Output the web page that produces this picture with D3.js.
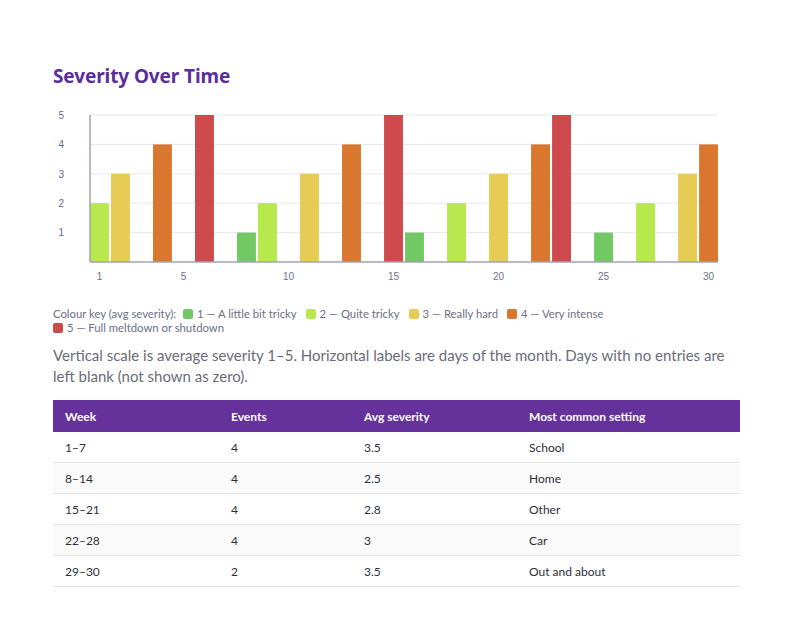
<!DOCTYPE html>
<html>
<head>
<meta charset="utf-8">
<script src="https://cdn.jsdelivr.net/npm/d3@7"></script>
<style>
  body { margin: 0; background: #fff; font-family: "Lato", "Noto Sans", sans-serif; }
  #page { position: relative; width: 792px; height: 630px; }
  #title { position: absolute; left: 53px; top: 63px; margin: 0; font-size: 19px; font-weight: 700; color: #5b2d9c; font-family: "Noto Sans", sans-serif; letter-spacing: -0.1px; }
  #chart { position: absolute; left: 0; top: 100px; }
  #legend { position: absolute; left: 53px; top: 307px; width: 600px; font-size: 11.3px; color: #6c6f85; line-height: 14px; }
  #legend .item { display: inline-block; margin-right: 9px; white-space: nowrap; }
  #legend .sw { display: inline-block; width: 10px; height: 10px; border-radius: 2px; vertical-align: -1px; margin-right: 4px; }
  #note { position: absolute; left: 53px; top: 345px; width: 690px; margin: 0; font-size: 15px; line-height: 21px; color: #6b6b78; }
  #table { position: absolute; left: 53px; top: 400px; width: 687px; border-collapse: collapse; font-size: 12px; }
  #table th { background: #65329b; color: #fff; text-align: left; font-weight: 700; height: 32px; padding: 0 12px; }
  #table td { height: 30px; padding: 0 12px; color: #2e2e3a; border-bottom: 1px solid #e4e4ea; }
  #table tr.alt td { background: #fafafa; }
</style>
</head>
<body>
<div id="page">
  <h2 id="title">Severity Over Time</h2>
  <svg id="chart"></svg>
  <div id="legend"></div>
  <p id="note">Vertical scale is average severity 1–5. Horizontal labels are days of the month. Days with no entries are left blank (not shown as zero).</p>
  <table id="table"></table>
</div>
<script>
// days of the month with an entry, and that day's average severity
const days = [1, 2, 4, 6, 8, 9, 11, 13, 15, 16, 18, 20, 22, 23, 25, 27, 29, 30];
const severity = [2, 3, 4, 5, 1, 2, 3, 4, 5, 1, 2, 3, 4, 5, 1, 2, 3, 4];
const allDays = d3.range(1, 31);
const xTicks = [1, 5, 10, 15, 20, 25, 30];
const yTicks = [1, 2, 3, 4, 5];

const levelLabels = ["1 — A little bit tricky", "2 — Quite tricky", "3 — Really hard", "4 — Very intense", "5 — Full meltdown or shutdown"];
const levelColors = ["#72c864", "#b7e94f", "#e6cc55", "#da772f", "#cf4a4c"];

const weeks = ["1–7", "8–14", "15–21", "22–28", "29–30"];
const events = [4, 4, 4, 4, 2];
const avgSeverity = [3.5, 2.5, 2.8, 3, 3.5];
const settings = ["School", "Home", "Other", "Car", "Out and about"];
const headers = ["Week", "Events", "Avg severity", "Most common setting"];
const colWidths = [166, 133, 165, 223];

const width = 792;
const height = 190;
const margin = { top: 15, right: 74, bottom: 28, left: 90 };

const svg = d3.select("#chart").attr("width", width).attr("height", height)
  .style("font-family", "'Lato', 'Noto Sans', sans-serif");

const x = d3.scaleBand().domain(allDays).range([margin.left, width - margin.right])
  .paddingInner(0.1).paddingOuter(0);
const y = d3.scaleLinear().domain([0, 5]).range([height - margin.bottom, margin.top]);
const color = d3.scaleOrdinal().domain([1, 2, 3, 4, 5]).range(levelColors);

// grid
svg.append("g")
  .selectAll("line").data(yTicks).join("line")
  .attr("x1", margin.left).attr("x2", width - margin.right)
  .attr("y1", d => y(d)).attr("y2", d => y(d))
  .attr("stroke", "#e6e6ee").attr("stroke-width", 1);

// bars
const data = days.map((d, i) => ({ day: d, value: severity[i] }));
svg.append("g")
  .selectAll("rect").data(data).join("rect")
  .attr("x", d => x(d.day))
  .attr("y", d => y(d.value))
  .attr("width", x.bandwidth())
  .attr("height", d => y(0) - y(d.value))
  .attr("fill", d => color(d.value));

// axes
const yAxis = svg.append("g").attr("transform", `translate(${margin.left},0)`)
  .call(d3.axisLeft(y).tickValues(yTicks).tickFormat(d3.format("d")).tickSize(0).tickPadding(26));
yAxis.select(".domain").remove();
yAxis.selectAll(".tick text").style("font-size", "10px").attr("fill", "#5f6b8c");

const xAxis = svg.append("g").attr("transform", `translate(0,${y(0)})`)
  .call(d3.axisBottom(x).tickValues(xTicks).tickSize(0).tickPadding(11));
xAxis.select(".domain").remove();
xAxis.selectAll(".tick text").style("font-size", "10px").attr("fill", "#6e7088");

svg.append("line")
  .attr("x1", margin.left).attr("x2", margin.left)
  .attr("y1", y(5)).attr("y2", y(0))
  .attr("stroke", "#a3a3b3").attr("stroke-width", 1.5);
svg.append("line")
  .attr("x1", margin.left).attr("x2", width - margin.right)
  .attr("y1", y(0)).attr("y2", y(0))
  .attr("stroke", "#a3a3b3").attr("stroke-width", 1.5);

// legend
const legend = d3.select("#legend");
legend.append("span").attr("class", "item").style("margin-right", "7px").text("Colour key (avg severity):");
levelLabels.forEach((label, i) => {
  const item = legend.append("span").attr("class", "item");
  item.append("span").attr("class", "sw").style("background", levelColors[i]);
  item.append("span").text(label);
});

// table
const table = d3.select("#table");
table.append("colgroup").selectAll("col").data(colWidths).join("col").attr("width", d => d);
table.append("thead").append("tr").selectAll("th").data(headers).join("th").text(d => d);
const rows = weeks.map((w, i) => [w, events[i], avgSeverity[i], settings[i]]);
table.append("tbody").selectAll("tr").data(rows).join("tr")
  .attr("class", (d, i) => i % 2 ? "alt" : null)
  .selectAll("td").data(d => d).join("td").text(d => d);
</script>
</body>
</html>
